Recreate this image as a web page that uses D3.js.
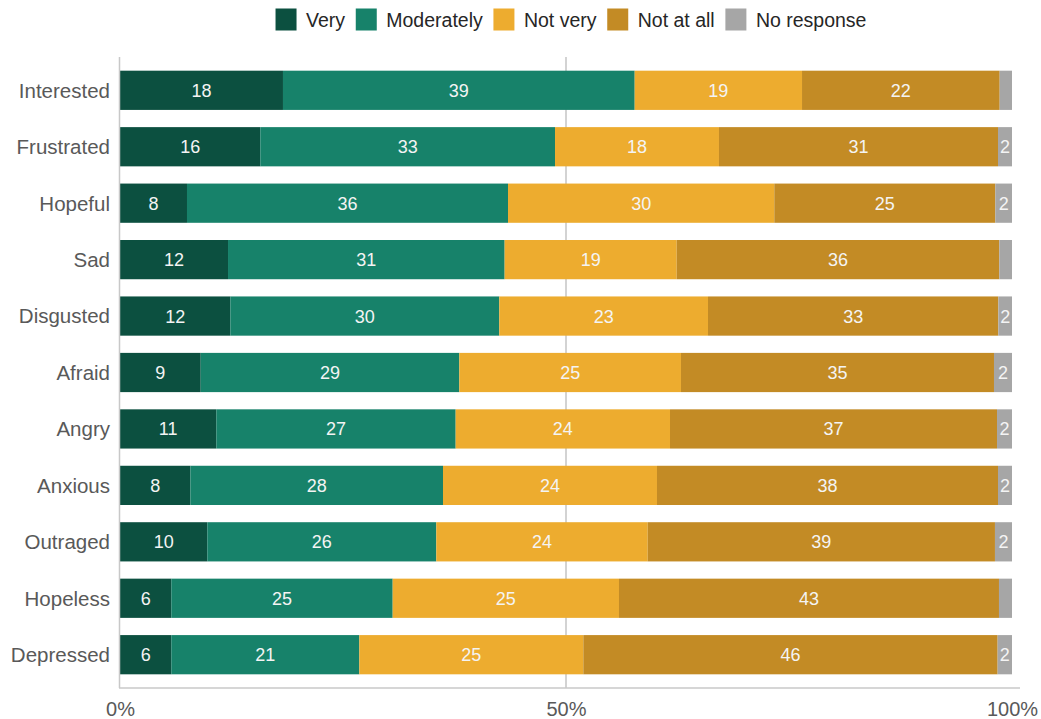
<!DOCTYPE html>
<html>
<head>
<meta charset="utf-8">
<script src="https://cdn.jsdelivr.net/npm/d3@7"></script>
<style>
  html, body { margin: 0; padding: 0; background: #fff; }
  svg { display: block; font-family: "Liberation Sans", Arial, Helvetica, sans-serif; }
</style>
</head>
<body>
<svg id="chart" width="1041" height="719"></svg>
<script>
// ---- data ----
const categories = ["Interested","Frustrated","Hopeful","Sad","Disgusted","Afraid","Angry","Anxious","Outraged","Hopeless","Depressed"];
const seriesNames = ["Very","Moderately","Not very","Not at all","No response"];
const very        = [18.27, 15.73, 7.51, 12.11, 12.37, 9.05, 10.80, 7.89, 9.79, 5.75, 5.75];
const moderately  = [39.43, 33.04, 35.99, 31.01, 30.15, 28.99, 26.83, 28.32, 25.67, 24.82, 21.08];
const notVery     = [18.76, 18.38, 29.85, 19.29, 23.40, 24.85, 24.03, 23.99, 23.70, 25.37, 25.11];
const notAtAll    = [22.16, 31.28, 24.78, 36.17, 32.55, 35.09, 36.66, 38.23, 38.93, 42.60, 46.45];
const noResponse  = [1.38, 1.57, 1.87, 1.42, 1.53, 2.02, 1.68, 1.57, 1.91, 1.46, 1.61];
const tickValues  = [0, 50, 100];
const tickLabels  = ["0%", "50%", "100%"];
const colors      = ["#0c5040", "#17826a", "#edac2f", "#c38b25", "#a6a6a6"];

const seriesValues = [very, moderately, notVery, notAtAll, noResponse];
const rows = categories.map((c, i) => {
  const r = { category: c };
  seriesNames.forEach((s, j) => r[s] = seriesValues[j][i]);
  return r;
});

// ---- layout ----
const svg = d3.select("#chart");
const plotLeft = 120, plotRight = 1012, plotTop = 57, plotBottom = 688;

const x = d3.scaleLinear().domain([0, 100]).range([plotLeft, plotRight]);
const y = d3.scaleBand().domain(categories).range([plotTop, plotBottom])
  .paddingInner(0.305).paddingOuter(0.2425);
const color = d3.scaleOrdinal().domain(seriesNames).range(colors);

const stacked = d3.stack().keys(seriesNames)(rows);

// 50% gridline
svg.append("line")
  .attr("x1", x(50)).attr("x2", x(50))
  .attr("y1", plotTop).attr("y2", plotBottom)
  .attr("stroke", "#c4c4c4").attr("stroke-width", 1.5);

// bars
const layers = svg.append("g").selectAll("g").data(stacked).join("g")
  .attr("fill", d => color(d.key));
layers.selectAll("rect").data(d => d).join("rect")
  .attr("x", d => x(d[0]))
  .attr("width", d => x(d[1]) - x(d[0]))
  .attr("y", d => y(d.data.category))
  .attr("height", y.bandwidth());

// value labels
const labelG = svg.append("g");
stacked.forEach(layer => {
  layer.forEach(d => {
    const v = d[1] - d[0];
    const r = Math.round(v);
    if (r < 2) return;
    labelG.append("text")
      .attr("x", (x(d[0]) + x(d[1])) / 2)
      .attr("y", y(d.data.category) + y.bandwidth() / 2)
      .attr("dy", "0.36em")
      .attr("text-anchor", "middle")
      .attr("fill", "#f4f4f4")
      .style("font-size", "18px")
      .text(r);
  });
});

// axes lines
svg.append("line")
  .attr("x1", plotLeft - 0.5).attr("x2", plotLeft - 0.5)
  .attr("y1", plotTop).attr("y2", plotBottom)
  .attr("stroke", "#c8c8c8").attr("stroke-width", 1.5);
svg.append("line")
  .attr("x1", plotLeft - 1).attr("x2", 1020)
  .attr("y1", plotBottom).attr("y2", plotBottom)
  .attr("stroke", "#c8c8c8").attr("stroke-width", 1.5);

// y axis labels
const yAxis = d3.axisLeft(y).tickSize(0).tickPadding(10);
const yg = svg.append("g").attr("transform", `translate(${plotLeft},0)`).call(yAxis);
yg.select(".domain").remove();
yg.selectAll("text").attr("fill", "#595959").style("font-size", "20.5px")
  .attr("dy", "0.36em")
  .style("font-family", "'Liberation Sans', Arial, sans-serif");

// x axis tick labels
const xAxis = d3.axisBottom(x).tickValues(tickValues)
  .tickFormat((d, i) => tickLabels[i]).tickSize(0).tickPadding(14);
const xg = svg.append("g").attr("transform", `translate(0,${plotBottom})`).call(xAxis);
xg.select(".domain").remove();
xg.selectAll("text").attr("fill", "#595959").style("font-size", "20px")
  .style("font-family", "'Liberation Sans', Arial, sans-serif");

// legend
const legend = svg.append("g");
const sw = 21, gapText = 9.5, gapItem = 10.7, legendCY = 19.5;
let cx = 0;
seriesNames.forEach(name => {
  const g = legend.append("g");
  g.append("rect").attr("x", 0).attr("y", legendCY - 11).attr("width", sw).attr("height", 22)
    .attr("fill", color(name));
  const t = g.append("text").attr("x", sw + gapText).attr("y", legendCY).attr("dy", "0.36em")
    .attr("fill", "#262626").style("font-size", "19.5px").text(name);
  const w = t.node().getComputedTextLength();
  g.attr("transform", `translate(${cx},0)`);
  cx += sw + gapText + w + gapItem;
});
const totalW = cx - gapItem;
legend.attr("transform", `translate(${571 - totalW / 2},0)`);
</script>
</body>
</html>
